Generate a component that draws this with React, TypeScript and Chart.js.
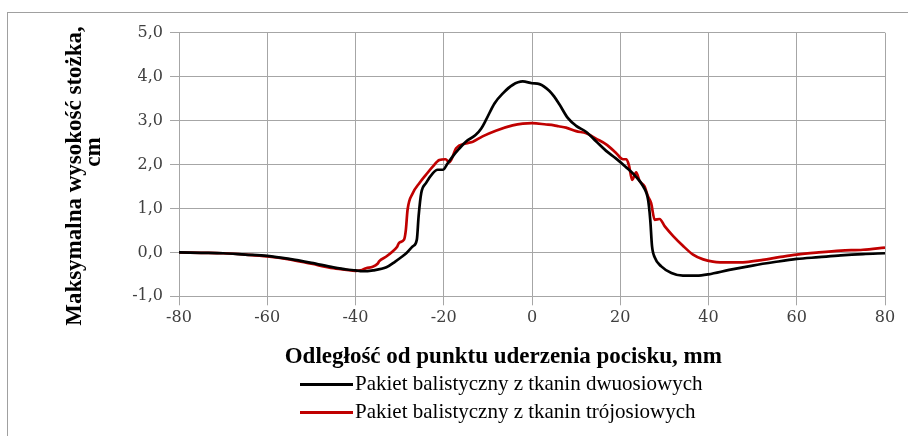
import React, { useEffect, useRef } from 'react';
import { Chart, registerables } from 'chart.js';

Chart.register(...registerables);

// Series 1: Pakiet balistyczny z tkanin dwuosiowych (black)
const biaxialX = [
  -80, -75, -70, -65, -60, -55, -50, -45, -42, -40, -38.5, -36, -33, -31, -29.5, -28.5, -27, -26.1, -25.7, -25.1,
  -24, -22.5, -21.4, -20.2, -19.1, -18, -16.5, -15, -12.8, -11.5, -10.4, -8.5, -6.6, -4.4, -2.1, 0, 1.7, 3.9, 5,
  6.2, 8.1, 10, 12.3, 14.5, 16.8, 19, 21.2, 23.5, 25.2, 26.3, 26.8, 27.2, 27.8, 29.3, 31.6, 34.2, 37.3, 40, 44.7,
  50, 55, 60, 65, 70, 75, 80,
];
const biaxialY = [
  0.0, -0.01, -0.02, -0.05, -0.08, -0.15, -0.24, -0.34, -0.39, -0.41, -0.43, -0.41, -0.34, -0.21, -0.1, -0.02, 0.14,
  0.29, 0.82, 1.35, 1.58, 1.8, 1.88, 1.88, 2.03, 2.18, 2.36, 2.52, 2.67, 2.82, 3.02, 3.39, 3.62, 3.81, 3.89, 3.85,
  3.83, 3.68, 3.55, 3.37, 3.06, 2.88, 2.74, 2.53, 2.31, 2.14, 1.95, 1.73, 1.5, 1.2, 0.74, 0.14, -0.11, -0.32, -0.47,
  -0.53, -0.53, -0.5, -0.4, -0.3, -0.22, -0.15, -0.11, -0.07, -0.04, -0.02,
];

// Series 2: Pakiet balistyczny z tkanin trójosiowych (red)
const triaxialX = [
  -80, -75, -70, -65, -60, -55, -50, -45, -42, -40, -38.5, -37.6, -36.1, -35, -34.6, -33.1, -31.6, -30.6, -30.1, -29,
  -28.6, -28.2, -27, -25.5, -24, -22.5, -21, -19.6, -18.7, -17.2, -15, -13.4, -11.2, -8.2, -4.4, -2.1, 0, 3.2, 5,
  6, 7.7, 10, 12.3, 14.5, 16.8, 19, 20.6, 21.4, 22, 22.7, 23.6, 24.4, 25.5, 26.3, 27, 27.8, 28.9, 30.1, 32, 34.2,
  36.5, 38.8, 41, 44.7, 48.5, 52.3, 56, 60, 65, 70, 75, 80,
];
const triaxialY = [
  0.0, -0.01, -0.02, -0.05, -0.09, -0.16, -0.26, -0.36, -0.4, -0.42, -0.4, -0.36, -0.33, -0.26, -0.2, -0.1, 0.02,
  0.12, 0.22, 0.29, 0.5, 0.97, 1.35, 1.58, 1.77, 1.95, 2.1, 2.12, 2.05, 2.37, 2.48, 2.52, 2.64, 2.77, 2.89, 2.93,
  2.94, 2.91, 2.89, 2.87, 2.84, 2.76, 2.71, 2.59, 2.46, 2.27, 2.12, 2.12, 1.97, 1.65, 1.82, 1.62, 1.5, 1.27,
  1.12, 0.74, 0.76, 0.59, 0.37, 0.15, -0.05, -0.16, -0.21, -0.23, -0.22, -0.17, -0.11, -0.05, 0.0, 0.04, 0.06, 0.11,
];

const seriesLabels = [
  'Pakiet balistyczny z tkanin dwuosiowych',
  'Pakiet balistyczny z tkanin trójosiowych',
];
const seriesColors = ['#000000', '#c00000'];

const xTitle = 'Odległość od punktu uderzenia pocisku, mm';
const yTitleLines = ['Maksymalna wysokość stożka,', 'cm'];

const xRange = [-80, 80];
const xStep = 20;
const yRange = [-1, 5];
const yStep = 1;

const yTitlePlugin = {
  id: 'yTitleLines',
  afterDraw(chart: any) {
    const { ctx } = chart;
    const pos = [
      [67, 168],
      [86, 144],
    ];
    ctx.save();
    ctx.font = 'bold 23px "Liberation Serif"';
    ctx.fillStyle = '#000000';
    ctx.textAlign = 'center';
    ctx.textBaseline = 'middle';
    yTitleLines.forEach((line, i) => {
      ctx.save();
      ctx.translate(pos[i][0], pos[i][1]);
      ctx.rotate(-Math.PI / 2);
      ctx.fillText(line, 0, 0);
      ctx.restore();
    });
    ctx.restore();
  },
};

export default function App() {
  const canvasRef = useRef<HTMLCanvasElement>(null);

  useEffect(() => {
    if (!canvasRef.current) return;
    const gridColor = '#a6a6a6';
    const chart = new Chart(canvasRef.current, {
      type: 'scatter',
      data: {
        datasets: [
          {
            label: seriesLabels[0],
            data: biaxialX.map((x, i) => ({ x, y: biaxialY[i] })),
            borderColor: seriesColors[0],
            backgroundColor: seriesColors[0],
            borderWidth: 2.7,
            showLine: true,
            pointRadius: 0,
            tension: 0.3,
            cubicInterpolationMode: 'monotone',
          },
          {
            label: seriesLabels[1],
            data: triaxialX.map((x, i) => ({ x, y: triaxialY[i] })),
            borderColor: seriesColors[1],
            backgroundColor: seriesColors[1],
            borderWidth: 2.7,
            showLine: true,
            pointRadius: 0,
            tension: 0.3,
            cubicInterpolationMode: 'monotone',
          },
        ],
      },
      options: {
        responsive: false,
        animation: false,
        devicePixelRatio: 1,
        layout: { padding: { left: 0, top: 24.7, right: 15, bottom: 55.2 } },
        plugins: {
          legend: { display: false },
          tooltip: { enabled: false },
        },
        scales: {
          x: {
            type: 'linear',
            min: xRange[0],
            max: xRange[1],
            ticks: {
              stepSize: xStep,
              color: '#404040',
              font: { family: '"DejaVu Serif"', size: 16 },
              padding: 3,
            },
            grid: { color: gridColor, lineWidth: 1, tickLength: 9, drawTicks: true },
            border: { display: true, color: gridColor },
            title: {
              display: true,
              text: xTitle + '          ',
              color: '#000000',
              font: { family: '"Liberation Serif"', size: 23, weight: 'bold', lineHeight: 1.2 },
              padding: { top: 0, bottom: 0 },
            },
            afterFit: (s: any) => {
              s.height = 74.5;
            },
          },
          y: {
            type: 'linear',
            min: yRange[0],
            max: yRange[1],
            ticks: {
              stepSize: yStep,
              color: '#404040',
              font: { family: '"DejaVu Serif"', size: 16 },
              padding: 7,
              callback: (v: any) => Number(v).toFixed(1).replace('.', ','),
            },
            grid: { color: gridColor, lineWidth: 1, tickLength: 9, drawTicks: true },
            border: { display: true, color: gridColor },
            afterFit: (s: any) => {
              s.width = 171;
            },
          },
        },
      },
      plugins: [yTitlePlugin],
    } as any);
    return () => chart.destroy();
  }, []);

  const legendRowTop = [365.4, 393.4];
  const lineTop = [374.7, 402.7];

  return (
    <div style={{ position: 'relative', width: 892, height: 418 }}>
      <div
        style={{
          position: 'fixed',
          left: 7,
          top: 12,
          width: 901,
          height: 424,
          boxSizing: 'border-box',
          borderLeft: '1px solid #a0a0a0',
          borderTop: '1px solid #a0a0a0',
          pointerEvents: 'none',
        }}
      />
      <canvas ref={canvasRef} width={892} height={418} style={{ display: 'block', width: 892, height: 418 }} />
      {seriesLabels.map((label, i) => (
        <React.Fragment key={label}>
          <div
            style={{
              position: 'absolute',
              left: 292,
              top: lineTop[i],
              width: 53,
              height: 3,
              background: seriesColors[i],
            }}
          />
          <div
            style={{
              position: 'absolute',
              left: 347,
              top: legendRowTop[i],
              fontFamily: '"Liberation Serif"',
              fontSize: 21,
              lineHeight: '21px',
              color: '#000',
              whiteSpace: 'nowrap',
            }}
          >
            {label}
          </div>
        </React.Fragment>
      ))}
    </div>
  );
}
